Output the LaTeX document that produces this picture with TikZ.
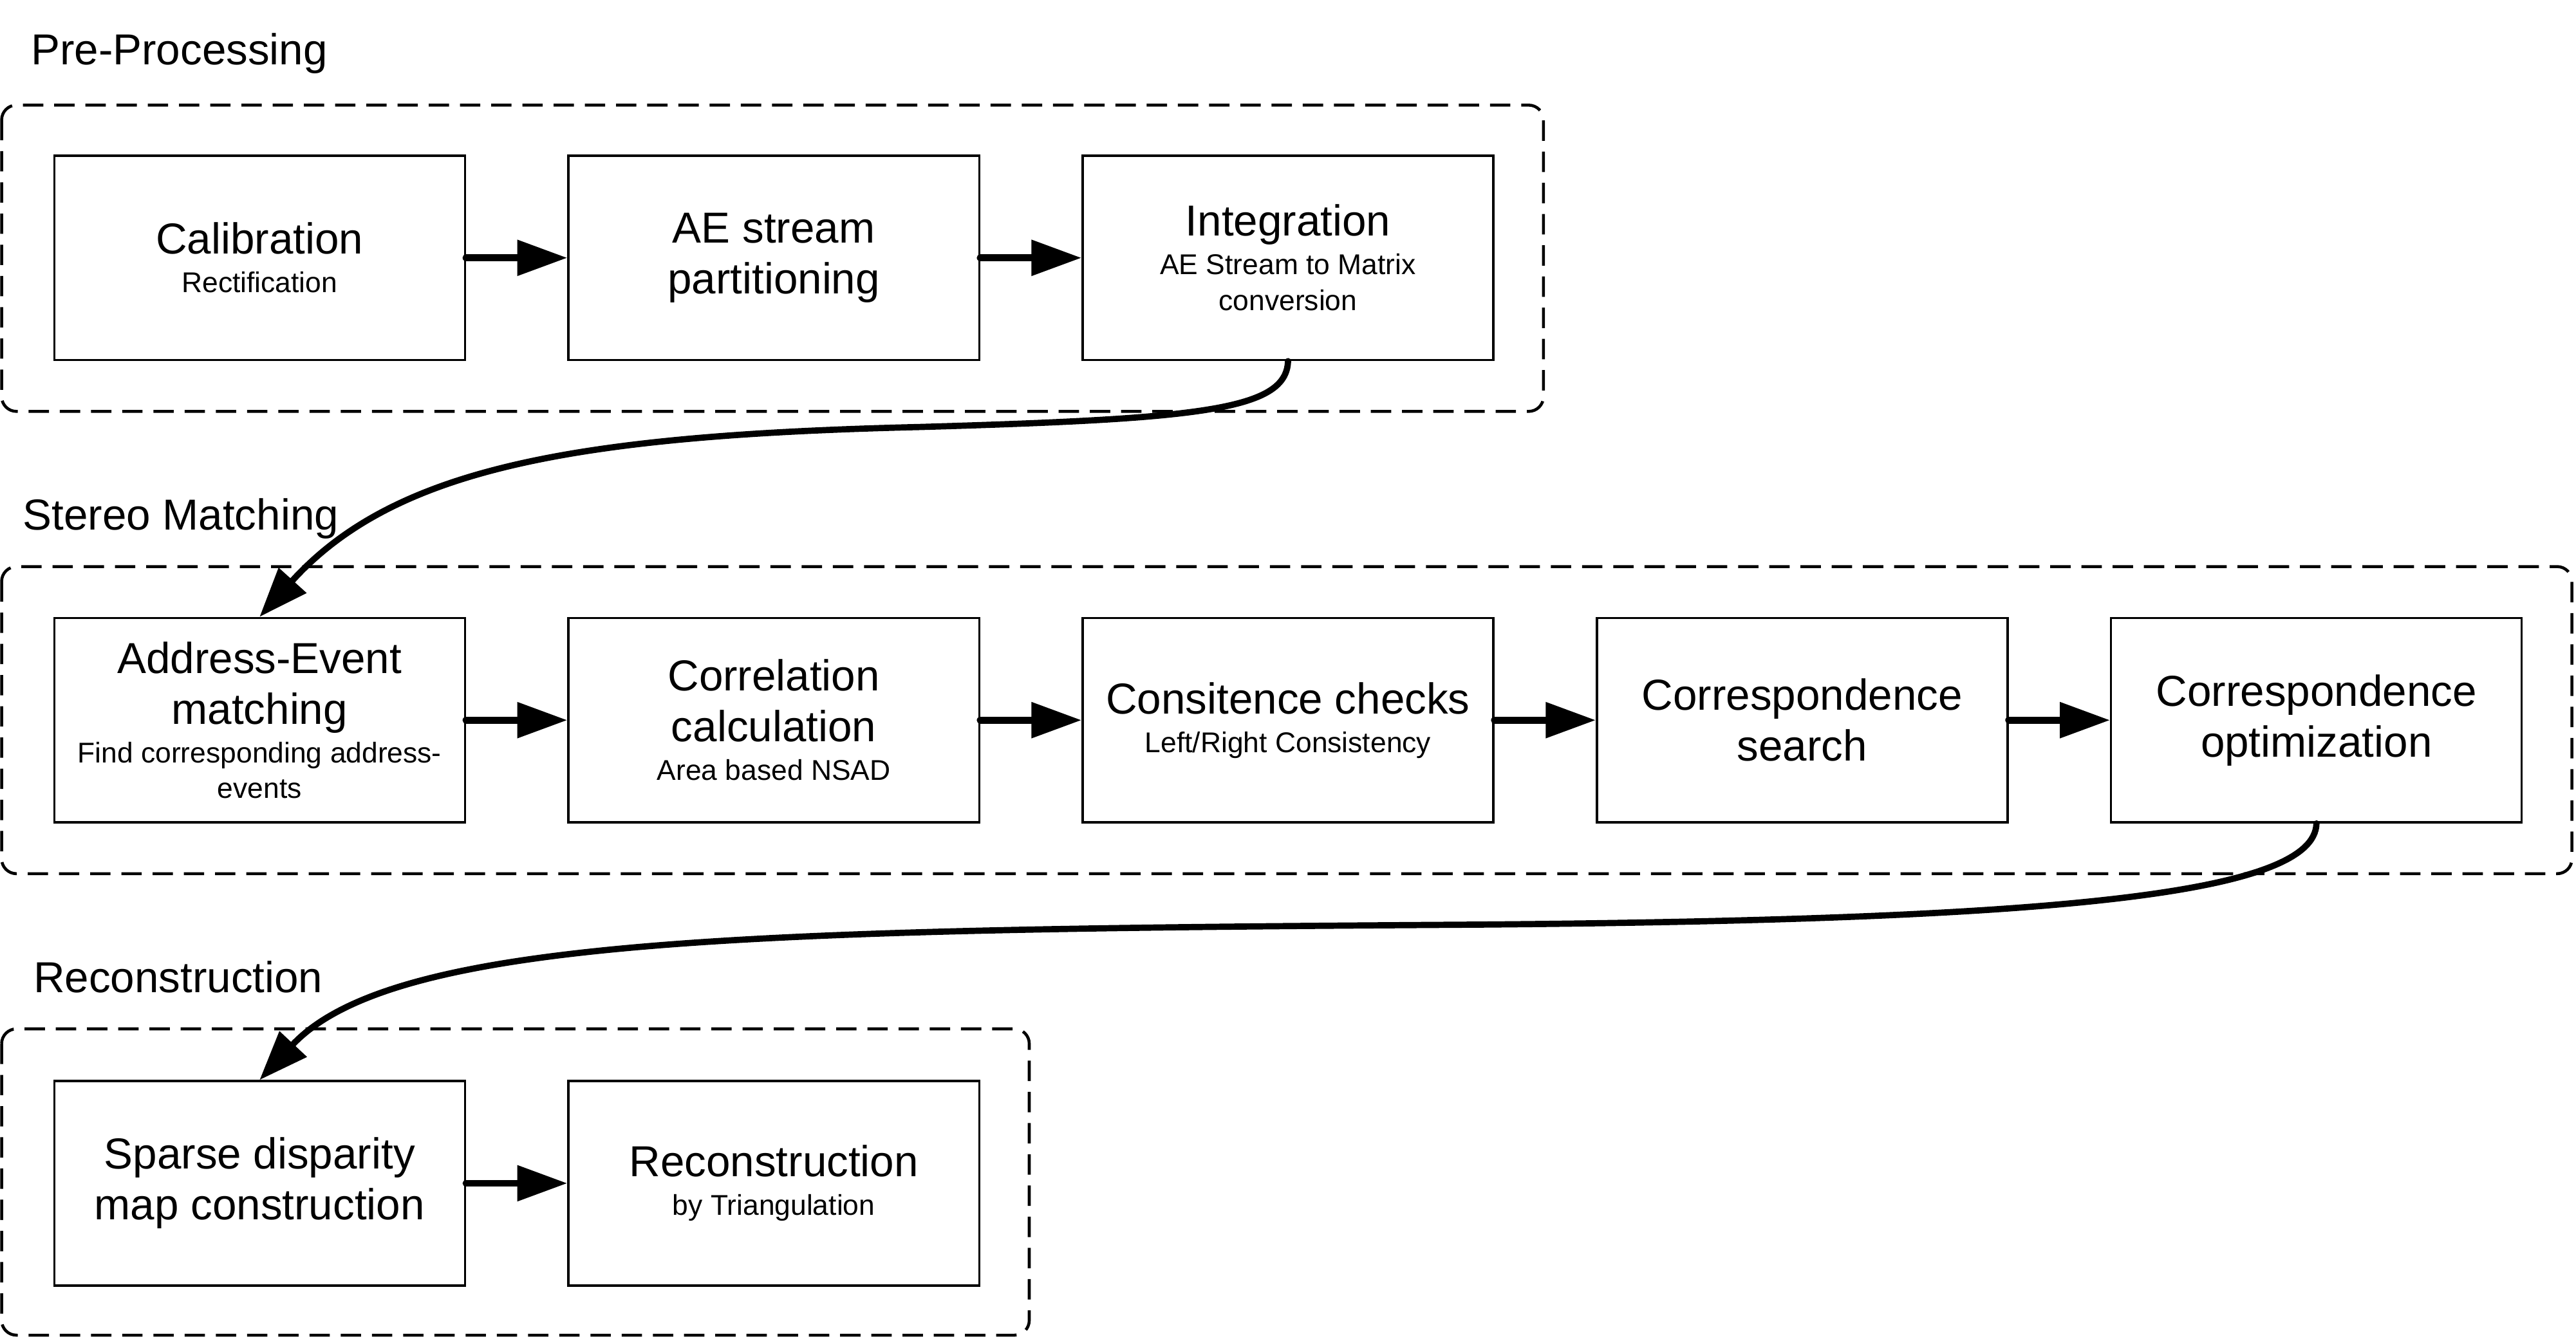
\documentclass[tikz,border=0pt]{standalone}
\usepackage{fontspec}
\setmainfont{Liberation Sans}
\usetikzlibrary{arrows.meta}
\newcommand\subtxt[1]{{\fontsize{8.7pt}{11pt}\selectfont #1}}
\tikzset{
  stagebox/.style={draw, line width=0.65pt, minimum width=125pt, minimum height=62.25pt,
    inner sep=0pt, align=center, font=\fontsize{13.2pt}{15.5pt}\selectfont},
  groupframe/.style={draw, line width=0.9pt, dash pattern=on 6.2pt off 3.3pt, rounded corners=4.5pt},
  grouplabel/.style={anchor=base west, inner sep=0pt, font=\fontsize{13.2pt}{15.5pt}\selectfont},
  flow/.style={line width=2.1pt, line cap=round, -{Triangle[length=15.25pt,width=10.5pt]}},
  bigflow/.style={line width=1.9pt, line cap=round, -{Triangle[length=15pt,width=11pt]}}
}
\begin{document}
\begin{tikzpicture}[x=0.5pt,y=-0.5pt]
\useasboundingbox (0,0) rectangle (1568,815);

% group frames
\draw[groupframe] (1,64) rectangle (939.5,250.5);
\draw[groupframe] (1,345) rectangle (1565.5,532);
\draw[groupframe] (1,626.5) rectangle (626.5,813);

% group labels
\node[grouplabel] (lpre) at (18.5,39.5) {Pre-Processing};
\node[grouplabel] (lstereo) at (13.5,322.5) {Stereo Matching};
\node[grouplabel] (lrec) at (20,604.5) {Reconstruction};

% row 1
\node[stagebox] (calib) at (158,157) {Calibration\\[-3.75pt]\subtxt{Rectification}};
\node[stagebox] (aes) at (471,157) {AE stream\\partitioning};
\node[stagebox] (integ) at (784,157) {Integration\\[-3.75pt]\subtxt{AE Stream to Matrix}\\[-4.5pt]\subtxt{conversion}};

% row 2
\node[stagebox] (aem) at (158,438.5) {Address-Event\\matching\\[-3.75pt]\subtxt{Find corresponding address-}\\[-4.7pt]\subtxt{events}};
\node[stagebox] (corr) at (471,438.5) {Correlation\\calculation\\[-3.75pt]\subtxt{Area based NSAD}};
\node[stagebox] (cons) at (784,438.5) {Consitence checks\\[-3.75pt]\subtxt{Left/Right Consistency}};
\node[stagebox] (csearch) at (1097,438.5) {Correspondence\\search};
\node[stagebox] (copt) at (1410,438.5) {Correspondence\\optimization};

% row 3
\node[stagebox] (sparse) at (158,720.5) {Sparse disparity\\map construction};
\node[stagebox] (recon) at (471,720.5) {Reconstruction\\[-3.75pt]\subtxt{by Triangulation}};

% straight connectors
\draw[flow] (calib.east) -- (aes.west);
\draw[flow] (aes.east) -- (integ.west);
\draw[flow] (aem.east) -- (corr.west);
\draw[flow] (corr.east) -- (cons.west);
\draw[flow] (cons.east) -- (csearch.west);
\draw[flow] (csearch.east) -- (copt.west);
\draw[flow] (sparse.east) -- (recon.west);

% curved connectors
\draw[bigflow] (integ.south) .. controls (783,250) and (730,255) .. (560,260)
  .. controls (350,265) and (240,285) .. (aem.north);
\draw[bigflow] (copt.south) .. controls (1409,545) and (1250,560) .. (900,563)
  .. controls (460,566) and (240,570) .. (sparse.north);
\end{tikzpicture}
\end{document}
